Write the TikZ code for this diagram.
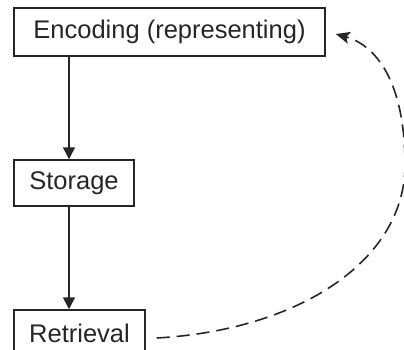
\documentclass[tikz,border=0pt]{standalone}
\usepackage{fontspec}
\setmainfont{Liberation Sans}
\usetikzlibrary{arrows.meta}
\definecolor{ink}{HTML}{262626}
\begin{document}
\begin{tikzpicture}[x=1pt,y=-1pt,
  box/.style={draw=ink,line width=1.5pt,inner sep=0pt,text=ink,font=\fontsize{25.5}{28}\selectfont},
  flow/.style={draw=ink,line width=1.5pt,-{Triangle[length=12pt,width=12pt]}},
  back/.style={draw=ink,line width=1.6pt,dash pattern=on 13pt off 7pt,-{Stealth[length=14pt,width=12pt,inset=3pt]}}]
\useasboundingbox (0,0) rectangle (404,350);
\clip (0,0) rectangle (404,350);
\node[box,minimum width=311pt,minimum height=48pt] (enc) at (169.5,32) {Encoding (representing)};
\node[box,minimum width=120pt,minimum height=46pt] (sto) at (74,183) {Storage};
\node[box,minimum width=131pt,minimum height=46pt] (ret) at (79.5,333) {Retrieval};
\coordinate (ax) at (69,0);
\coordinate (mid) at (405,165);
\draw[flow] (enc.south -| ax) -- (sto.north -| ax);
\draw[flow] (sto.south -| ax) -- (ret.north -| ax);
\draw[back] ([xshift=11pt,yshift=-5pt]ret.east) .. controls (300,330) and (405,260) .. (mid)
  .. controls (405,80) and (375,45) .. ([xshift=10pt,yshift=-2pt]enc.east);
\end{tikzpicture}
\end{document}
